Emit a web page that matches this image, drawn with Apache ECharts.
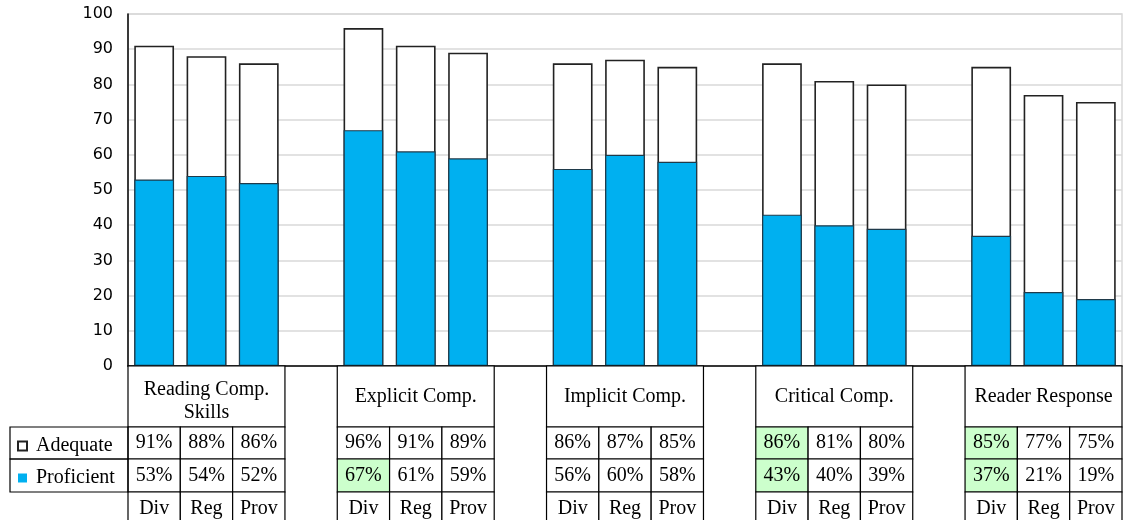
<!DOCTYPE html>
<html>
<head>
<meta charset="utf-8">
<script src="https://cdn.jsdelivr.net/npm/echarts@6/dist/echarts.min.js"></script>
<style>
  html, body { margin: 0; padding: 0; background: #fff; }
  #chart { width: 1127px; height: 520px; }
</style>
</head>
<body>
<div id="chart"></div>
<script>
// skill groups and the three levels in each group
const groups = ['Reading Comp.\nSkills', 'Explicit Comp.', 'Implicit Comp.', 'Critical Comp.', 'Reader Response'];
const levels = ['Div', 'Reg', 'Prov'];
const adequate = [91, 88, 86, 96, 91, 89, 86, 87, 85, 86, 81, 80, 85, 77, 75];
const proficient = [53, 54, 52, 67, 61, 59, 56, 60, 58, 43, 40, 39, 37, 21, 19];
// cells shaded green in the table (index into the arrays above)
const greenAdequate = [9, 12];
const greenProficient = [3, 9, 12];
const yTicks = [0, 10, 20, 30, 40, 50, 60, 70, 80, 90, 100];

const BLUE = '#00b0f0';
const GREEN = '#ccffcc';
const SERIF = '"Liberation Serif", "DejaVu Serif", serif';

// 3 bars per group + an empty slot between groups
const cats = [];
const adqData = [];
const profData = [];
const tableData = [];
groups.forEach((g, gi) => {
  levels.forEach((lv, li) => {
    const k = gi * 3 + li;
    cats.push(g + '|' + lv);
    adqData.push(adequate[k]);
    profData.push(proficient[k]);
    tableData.push([cats.length - 1, k, gi, li]);
  });
  if (gi < groups.length - 1) {
    cats.push('gap' + gi);
    adqData.push('-');
    profData.push('-');
  }
});

// row heights of the table under the axis
const HEAD_H = 61, ROW1_H = 32, ROW2_H = 33, ROW3_H = 34;

function cellText(x, y, w, h, txt, fill) {
  // two-line headers sit a little lower in the original
  const dy = txt.indexOf('\n') >= 0 ? 5 : 0;
  return [
    {
      type: 'rect',
      shape: { x: x, y: y, width: w, height: h },
      style: { fill: fill || '#fff', stroke: '#000', lineWidth: 1.2 }
    },
    {
      type: 'text',
      style: {
        x: x + w / 2, y: y + h / 2 + dy,
        text: txt, fill: '#000',
        font: '20px ' + SERIF,
        align: 'center', verticalAlign: 'middle', lineHeight: 23
      }
    }
  ];
}

function renderTable(params, api) {
  const cat = api.value(0), k = api.value(1), gi = api.value(2), li = api.value(3);
  const c = api.coord([cat, 0]);
  const bw = api.size([1, 0])[0];
  const x = c[0] - bw / 2;
  const y0 = c[1];
  let children = [];
  if (li === 0) {
    children = children.concat(cellText(x, y0, bw * 3, HEAD_H, groups[gi]));
  }
  const y1 = y0 + HEAD_H, y2 = y1 + ROW1_H, y3 = y2 + ROW2_H;
  children = children.concat(
    cellText(x, y1, bw, ROW1_H, adequate[k] + '%', greenAdequate.includes(k) ? GREEN : null),
    cellText(x, y2, bw, ROW2_H, proficient[k] + '%', greenProficient.includes(k) ? GREEN : null),
    cellText(x, y3, bw, ROW3_H, levels[li])
  );
  // legend box on the left of the first column
  if (k === 0) {
    children.push({
      type: 'rect',
      shape: { x: 10, y: y1, width: x - 10, height: ROW1_H },
      style: { fill: 'none', stroke: '#000', lineWidth: 1.2 }
    }, {
      type: 'rect',
      shape: { x: 10, y: y2, width: x - 10, height: ROW2_H },
      style: { fill: 'none', stroke: '#000', lineWidth: 1.2 }
    });
  }
  return { type: 'group', children: children };
}

const chart = echarts.init(document.getElementById('chart'));
chart.setOption({
  animation: false,
  backgroundColor: '#fff',
  grid: {
    left: 128, right: 5, top: 14, bottom: 154,
    show: true, borderColor: '#d9d9d9', borderWidth: 1.5, backgroundColor: 'transparent'
  },
  legend: {
    orient: 'vertical',
    left: 12,
    top: 430,
    itemWidth: 9,
    itemHeight: 9,
    itemGap: 10,
    selectedMode: false,
    textStyle: { fontFamily: SERIF, fontSize: 20, color: '#000', lineHeight: 22, padding: [0, 0, 0, 4] },
    data: [
      { name: 'Adequate', icon: 'rect' },
      { name: 'Proficient', icon: 'rect', itemStyle: { borderWidth: 0 } }
    ]
  },
  xAxis: {
    type: 'category',
    data: cats,
    axisLine: { show: true, lineStyle: { color: '#000', width: 1.5 } },
    axisTick: { show: false },
    axisLabel: { show: false },
    splitLine: { show: false }
  },
  yAxis: {
    type: 'value',
    min: yTicks[0],
    max: yTicks[yTicks.length - 1],
    interval: 10,
    axisLine: { show: true, lineStyle: { color: '#000', width: 1.5 } },
    axisTick: { show: false },
    axisLabel: { color: '#000', fontSize: 16, fontFamily: '"DejaVu Sans", "Liberation Sans", sans-serif', margin: 15 },
    splitLine: { lineStyle: { color: '#d9d9d9', width: 1.5 } }
  },
  series: [
    {
      name: 'Adequate',
      type: 'bar',
      data: adqData,
      barWidth: '76%',
      barGap: '-100%',
      itemStyle: { color: '#fff', borderColor: '#222', borderWidth: 1.6 },
      z: 2
    },
    {
      name: 'Proficient',
      type: 'bar',
      data: profData,
      barWidth: '76%',
      itemStyle: { color: BLUE, borderColor: '#1f3a4a', borderWidth: 1.2 },
      z: 3
    },
    {
      name: 'table',
      type: 'custom',
      data: tableData,
      renderItem: renderTable,
      clip: false,
      silent: true,
      z: 5
    }
  ]
});
</script>
</body>
</html>
